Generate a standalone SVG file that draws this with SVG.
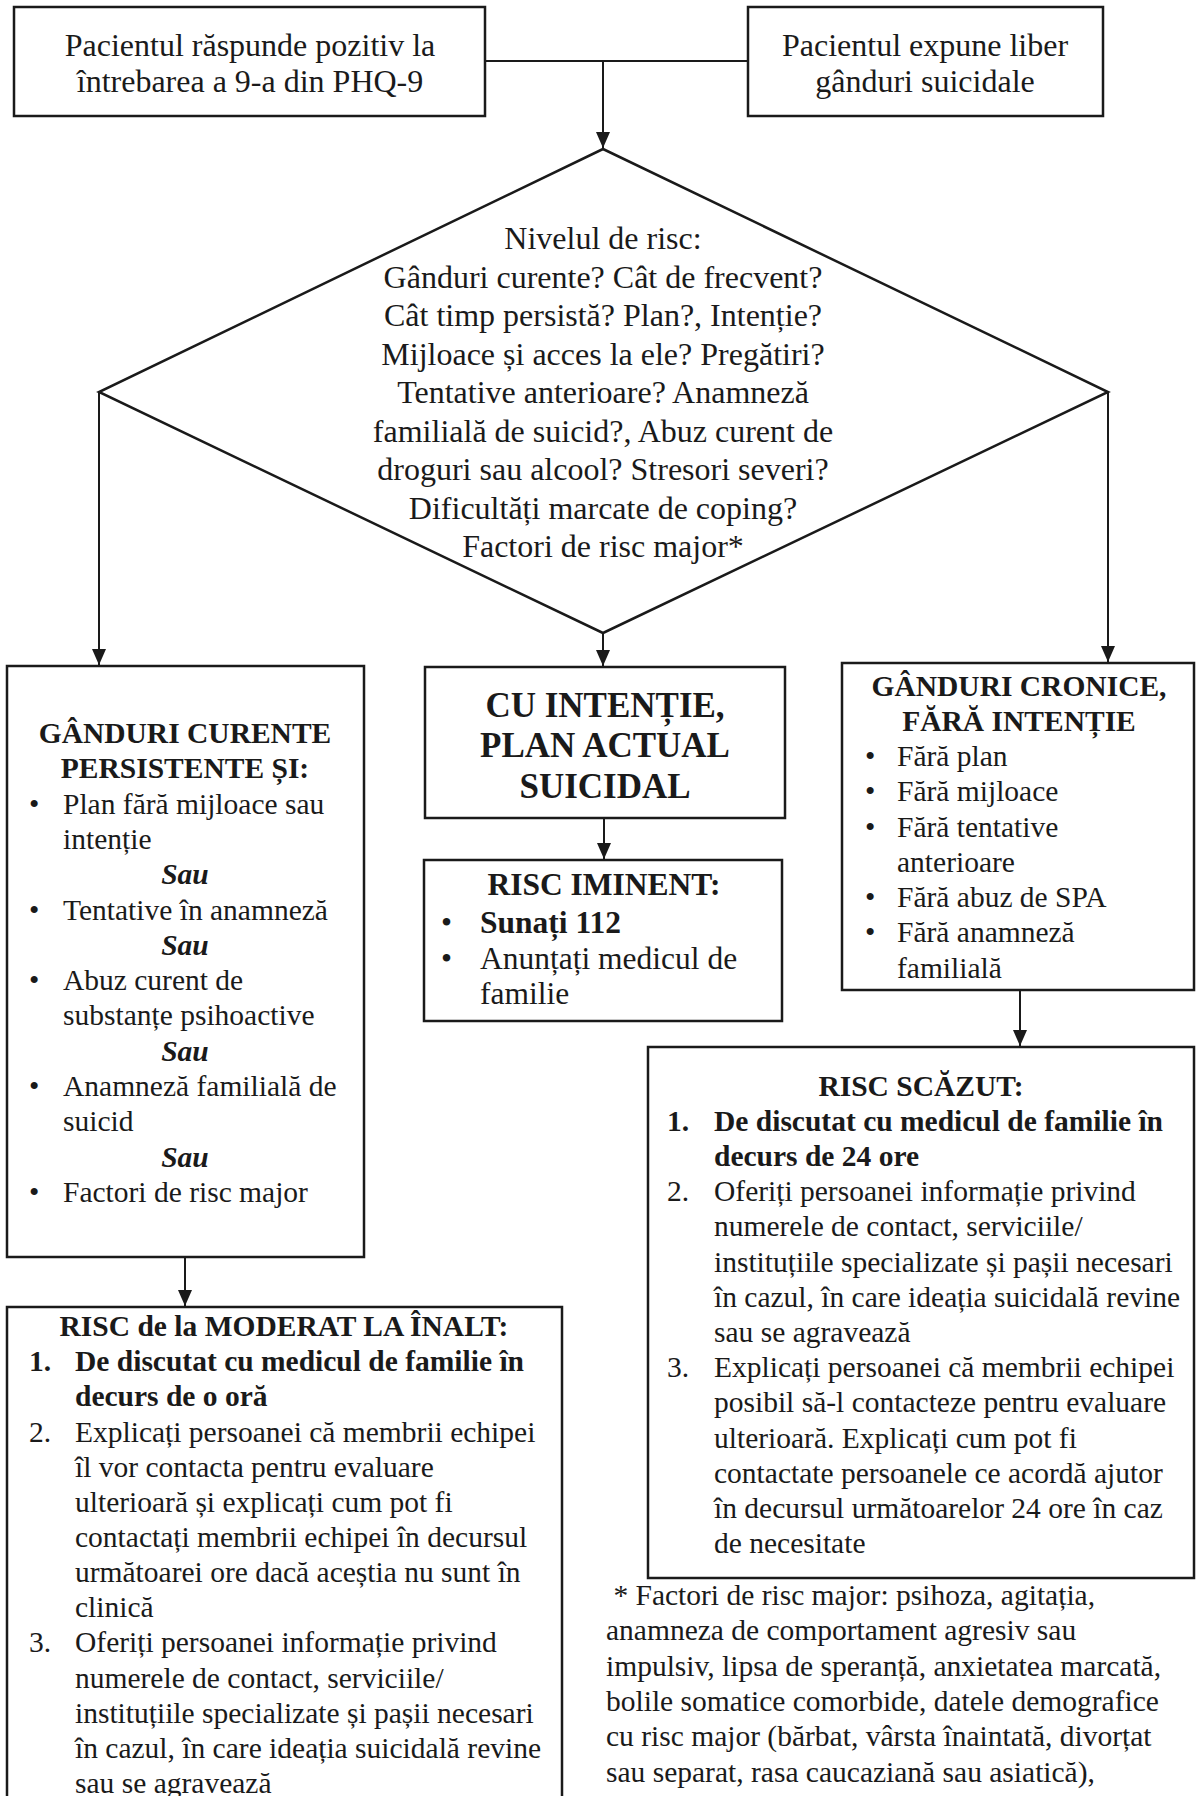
<svg xmlns="http://www.w3.org/2000/svg" width="1197" height="1796" viewBox="0 0 1197 1796">
<style>
.box{fill:#fff;stroke:#1a1a1a;stroke-width:2.5}
.ln{fill:none;stroke:#1a1a1a;stroke-width:2}
text{font-family:"Liberation Serif","Times New Roman",serif;fill:#1a1a1a;font-size:29.5px}
.c{text-anchor:middle}
.b{font-weight:bold}
.bi{font-weight:bold;font-style:italic}
.big{font-size:32px}
.h{font-size:35px;font-weight:bold}
.m{font-size:31.5px}
</style>
<defs>
<marker id="ah" markerUnits="userSpaceOnUse" markerWidth="16" markerHeight="16" refX="16" refY="7" orient="auto">
<path d="M0,0 L16,7 L0,14 z" fill="#1a1a1a"/>
</marker>
</defs>
<rect width="1197" height="1796" fill="#fff"/>

<g id="connectors">
<line class="ln" x1="485" y1="61" x2="748" y2="61"/>
<line class="ln" x1="603" y1="61" x2="603" y2="148" marker-end="url(#ah)"/>
<line class="ln" x1="99" y1="392" x2="99" y2="665" marker-end="url(#ah)"/>
<line class="ln" x1="603" y1="633" x2="603" y2="666" marker-end="url(#ah)"/>
<line class="ln" x1="1108" y1="392" x2="1108" y2="662" marker-end="url(#ah)"/>
<line class="ln" x1="604" y1="818" x2="604" y2="859" marker-end="url(#ah)"/>
<line class="ln" x1="1020" y1="990" x2="1020" y2="1046" marker-end="url(#ah)"/>
<line class="ln" x1="185" y1="1257" x2="185" y2="1306" marker-end="url(#ah)"/>
</g>

<g id="n-phq">
<rect class="box" x="14" y="7" width="471" height="109"/>
<text class="c big" x="250" y="56">Pacientul răspunde pozitiv la</text>
<text class="c big" x="250" y="92">întrebarea a 9-a din PHQ-9</text>
</g>

<g id="n-liber">
<rect class="box" x="748" y="7" width="355" height="109"/>
<text class="c big" x="925" y="56">Pacientul expune liber</text>
<text class="c big" x="925" y="92">gânduri suicidale</text>
</g>

<g id="n-risc">
<polygon class="box" points="603,149 1108,392 603,633 99,392"/>
<text class="c big" x="603" y="249">Nivelul  de risc:</text>
<text class="c big" x="603" y="287.5">Gânduri curente? Cât de frecvent?</text>
<text class="c big" x="603" y="326">Cât timp persistă? Plan?, Intenție?</text>
<text class="c big" x="603" y="364.5">Mijloace  și acces la ele? Pregătiri?</text>
<text class="c big" x="603" y="403">Tentative  anterioare? Anamneză</text>
<text class="c big" x="603" y="441.5">familială  de suicid?, Abuz curent de</text>
<text class="c big" x="603" y="480">droguri sau alcool? Stresori severi?</text>
<text class="c big" x="603" y="518.5">Dificultăți  marcate de coping?</text>
<text class="c big" x="603" y="557">Factori de risc major*</text>
</g>

<g id="n-curente">
<rect class="box" x="7" y="666" width="357" height="591"/>
<text class="c b" x="185" y="743">GÂNDURI CURENTE</text>
<text class="c b" x="185" y="778.3">PERSISTENTE ȘI:</text>
<text x="29" y="813.6">•</text><text x="63" y="813.6">Plan fără mijloace sau</text>
<text x="63" y="848.9">intenție</text>
<text class="c bi" x="185" y="884.2">Sau</text>
<text x="29" y="919.5">•</text><text x="63" y="919.5">Tentative în anamneză</text>
<text class="c bi" x="185" y="954.8">Sau</text>
<text x="29" y="990.1">•</text><text x="63" y="990.1">Abuz curent de</text>
<text x="63" y="1025.4">substanțe psihoactive</text>
<text class="c bi" x="185" y="1060.7">Sau</text>
<text x="29" y="1096">•</text><text x="63" y="1096">Anamneză  familială de</text>
<text x="63" y="1131.3">suicid</text>
<text class="c bi" x="185" y="1166.6">Sau</text>
<text x="29" y="1201.9">•</text><text x="63" y="1201.9">Factori de risc major</text>
</g>

<g id="n-intentie">
<rect class="box" x="425" y="667" width="360" height="151"/>
<text class="c h" x="605" y="717">CU INTENȚIE,</text>
<text class="c h" x="605" y="757">PLAN ACTUAL</text>
<text class="c h" x="605" y="797.5">SUICIDAL</text>
</g>

<g id="n-iminent">
<rect class="box" x="424" y="860" width="358" height="161"/>
<text class="c b m" x="604" y="895">RISC IMINENT:</text>
<text class="m" x="441" y="933">•</text><text class="b m" x="480" y="933">Sunați 112</text>
<text class="m" x="441" y="968.5">•</text><text class="m" x="480" y="968.5">Anunțați medicul de</text>
<text class="m" x="480" y="1004">familie</text>
</g>

<g id="n-cronice">
<rect class="box" x="842" y="663" width="352" height="327"/>
<text class="c b" x="1019" y="696">GÂNDURI CRONICE,</text>
<text class="c b" x="1019" y="731">FĂRĂ INTENȚIE</text>
<text x="865" y="766">•</text><text x="897" y="766">Fără plan</text>
<text x="865" y="801.2">•</text><text x="897" y="801.2">Fără mijloace</text>
<text x="865" y="836.5">•</text><text x="897" y="836.5">Fără tentative</text>
<text x="897" y="871.7">anterioare</text>
<text x="865" y="907">•</text><text x="897" y="907">Fără abuz de SPA</text>
<text x="865" y="942.2">•</text><text x="897" y="942.2">Fără anamneză</text>
<text x="897" y="977.5">familială</text>
</g>

<g id="n-scazut">
<rect class="box" x="648" y="1047" width="546" height="531"/>
<text class="c b" x="921" y="1095.5">RISC SCĂZUT:</text>
<text class="b" x="667" y="1130.7">1.</text><text class="b" x="714" y="1130.7">De discutat cu medicul de familie  în</text>
<text class="b" x="714" y="1165.9">decurs de 24 ore</text>
<text x="667" y="1201.1">2.</text><text x="714" y="1201.1">Oferiți persoanei informație privind</text>
<text x="714" y="1236.3">numerele de contact, serviciile/</text>
<text x="714" y="1271.5">instituțiile  specializate  și pașii necesari</text>
<text x="714" y="1306.7">în cazul, în care ideația  suicidală revine</text>
<text x="714" y="1341.9">sau se agravează</text>
<text x="667" y="1377.1">3.</text><text x="714" y="1377.1">Explicați  persoanei că membrii echipei</text>
<text x="714" y="1412.3">posibil să-l contacteze  pentru evaluare</text>
<text x="714" y="1447.5">ulterioară. Explicați  cum pot fi</text>
<text x="714" y="1482.7">contactate persoanele ce acordă ajutor</text>
<text x="714" y="1517.9">în decursul următoarelor 24  ore în caz</text>
<text x="714" y="1553.1">de necesitate</text>
</g>

<g id="n-moderat">
<rect class="box" x="7" y="1307" width="555" height="520"/>
<text class="c b" x="284" y="1336">RISC de la  MODERAT LA ÎNALT:</text>
<text class="b" x="29" y="1371.2">1.</text><text class="b" x="75" y="1371.2">De discutat cu medicul de familie  în</text>
<text class="b" x="75" y="1406.3">decurs de o oră</text>
<text x="29" y="1441.5">2.</text><text x="75" y="1441.5">Explicați  persoanei că membrii echipei</text>
<text x="75" y="1476.6">îl vor contacta pentru evaluare</text>
<text x="75" y="1511.8">ulterioară și explicați  cum pot fi</text>
<text x="75" y="1546.9">contactați membrii echipei în decursul</text>
<text x="75" y="1582">următoarei ore dacă aceștia  nu sunt în</text>
<text x="75" y="1617.2">clinică</text>
<text x="29" y="1652.3">3.</text><text x="75" y="1652.3">Oferiți persoanei informație privind</text>
<text x="75" y="1687.5">numerele de contact, serviciile/</text>
<text x="75" y="1722.6">instituțiile  specializate  și pașii necesari</text>
<text x="75" y="1757.8">în cazul, în care ideația  suicidală revine</text>
<text x="75" y="1793">sau se agravează</text>
</g>

<g id="footnote">
<text x="606" y="1605" xml:space="preserve"> * Factori de risc major: psihoza, agitația,</text>
<text x="606" y="1640.3">anamneza de comportament agresiv sau</text>
<text x="606" y="1675.6">impulsiv, lipsa de speranță, anxietatea marcată,</text>
<text x="606" y="1710.9">bolile somatice comorbide, datele demografice</text>
<text x="606" y="1746.2">cu risc major (bărbat, vârsta înaintată, divorțat</text>
<text x="606" y="1781.5">sau separat, rasa caucaziană sau  asiatică),</text>
</g>
</svg>
